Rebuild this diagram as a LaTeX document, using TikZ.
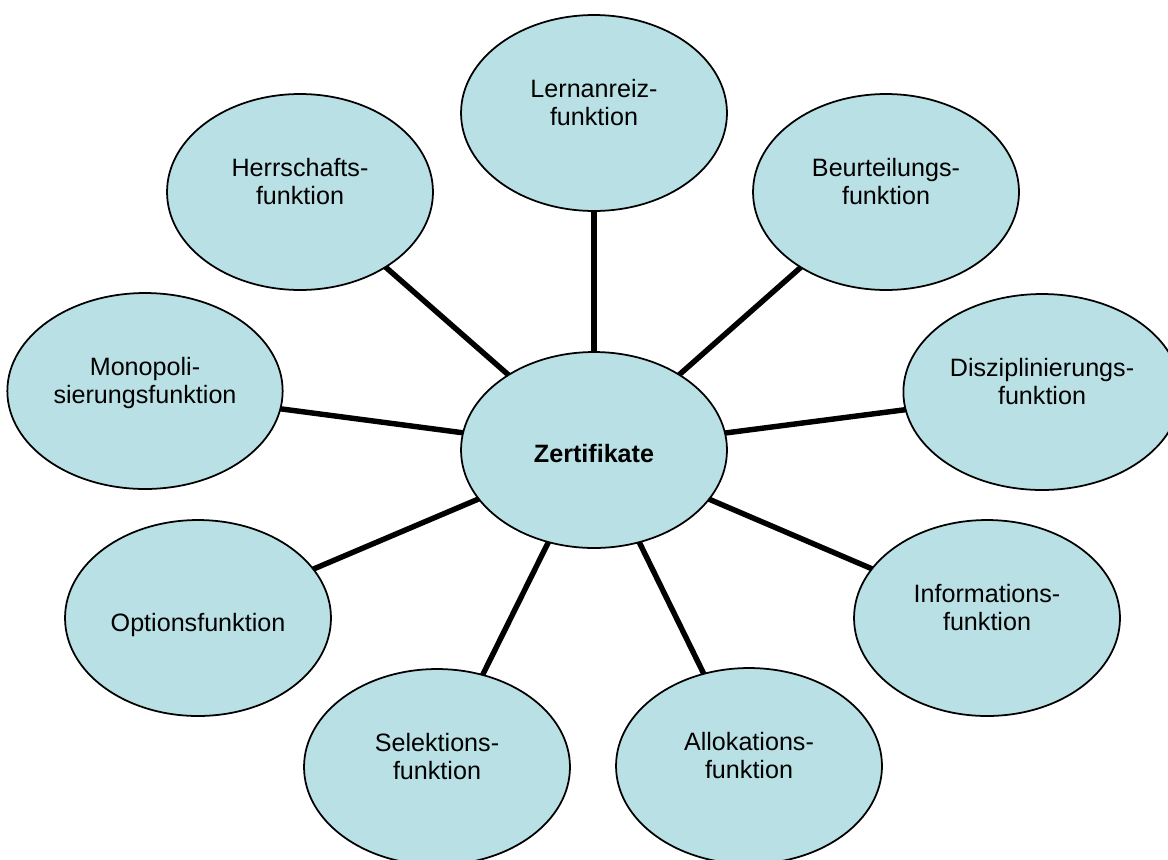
\documentclass[tikz,border=0pt]{standalone}
\usepackage{fontspec}
\setmainfont{Liberation Sans}
\usetikzlibrary{backgrounds,shapes.geometric}
\definecolor{ovalfill}{RGB}{185,224,228}
\tikzset{
  oval/.style={ellipse,draw=black,line width=1pt,fill=ovalfill,
    minimum width=5.32cm,minimum height=3.92cm,align=center,
    font=\fontsize{14.3}{16}\selectfont},
  twolines/.style={text depth=12.5pt},
  spoke/.style={line width=3.1pt,black}
}

\begin{document}
\begin{tikzpicture}[x=0.02cm,y=-0.02cm] % Zertifikate und Funktionen
       \useasboundingbox (0,0) rectangle (1168,859);
       \clip (0,0) rectangle (1168,859);
       \node[oval,font=\fontsize{14.3}{16}\selectfont\bfseries,text height=13.8pt] (zert) at (594,450) {Zertifikate};
       \node[oval,twolines] (lern) at (594,113) {Lernanreiz-\\funktion};
       \node[oval,twolines] (herr) at (300,192) {Herrschafts-\\funktion};
       \node[oval,twolines] (beur) at (886,192) {Beurteilungs-\\funktion};
       \node[oval,twolines] (mono) at (145,391) {Monopoli-\\sierungsfunktion};
       \node[oval,twolines] (disz) at (1042,392) {Disziplinierungs-\\funktion};
       \node[oval,text height=18pt] (opt) at (198,618) {Optionsfunktion};
       \node[oval,twolines] (info) at (987,618) {Informations-\\funktion};
       \node[oval,twolines] (sel) at (437,767) {Selektions-\\funktion};
       \node[oval,twolines] (allo) at (749,766) {Allokations-\\funktion};
       \begin{pgfonlayer}{background}
              \foreach \f in {lern,herr,beur,mono,disz,opt,info,sel,allo}
                     \draw[spoke] (zert.center) -- (\f.center);
       \end{pgfonlayer}
\end{tikzpicture}
\end{document}
